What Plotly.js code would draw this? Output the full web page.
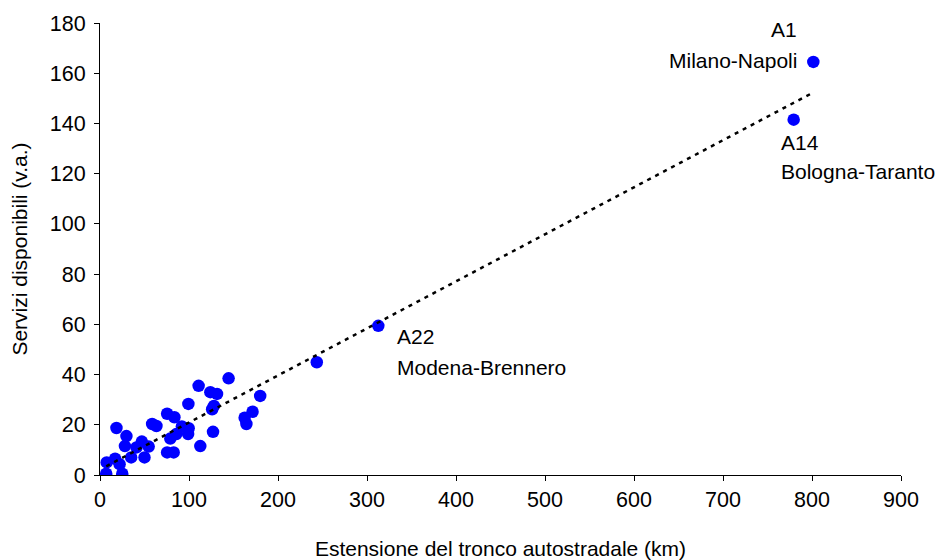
<!DOCTYPE html>
<html>
<head>
<meta charset="utf-8">
<script src="https://cdn.plot.ly/plotly-3.0.1.min.js"></script>
<style>html,body{margin:0;padding:0;background:#fff;}#chart{width:943px;height:560px;}</style>
</head>
<body>
<div id="chart"></div>
<script>
// Estensione del tronco autostradale (km)
var km = [7, 25, 7.5, 17, 22, 18.5, 29.7, 28, 35, 41, 47, 50, 54.7,
          58.6, 63.4, 75.4, 83.6, 79, 85.8, 75.4, 82.8, 92, 99.6, 99, 99.3,
          110.8, 112.7, 124, 131.5, 128, 126, 127, 144.5, 180, 171.4, 162.5, 164.5,
          243.6, 312.7, 779.4, 801.5];
// Servizi disponibili (v.a.)
var servizi = [0.5, 0.5, 5, 6.5, 4.3, 18.7, 15.5, 11.5, 7, 11, 13.3, 7, 11.3,
               20.3, 19.5, 24.4, 23, 14.5, 16.3, 9, 9, 19.3, 18.6, 16.3, 28.3,
               35.5, 11.5, 33, 32.3, 27.5, 26.2, 17.2, 38.5, 31.5, 25.2, 22.8, 20.3,
               44.9, 59.4, 141.5, 164.5];

var labelNames = ["A1", "Milano-Napoli", "A14", "Bologna-Taranto", "A22", "Modena-Brennero"];
var xTitle = "Estensione del tronco autostradale (km)";
var yTitle = "Servizi disponibili (v.a.)";

// linear trend (least squares)
var n = km.length, sx = 0, sy = 0, sxx = 0, sxy = 0;
for (var i = 0; i < n; i++) { sx += km[i]; sy += servizi[i]; sxx += km[i]*km[i]; sxy += km[i]*servizi[i]; }
var slope = (n*sxy - sx*sy) / (n*sxx - sx*sx);
var intercept = (sy - slope*sx) / n;
var xmin = Math.min.apply(null, km), xmax = Math.max.apply(null, km);
var trendX = [xmin, xmax];
var trendY = trendX.map(function(v){ return intercept + slope*v; });

var font = {family: "Liberation Sans, Arial, sans-serif", size: 21, color: "#000"};
var tickFont = {family: "Liberation Sans, Arial, sans-serif", size: 21.5, color: "#000"};

var data = [
  {x: km, y: servizi, type: "scatter", mode: "markers",
   marker: {color: "#0000FF", size: 12.5}, hoverinfo: "x+y"},
  {x: trendX, y: trendY, type: "scatter", mode: "lines",
   line: {color: "#000", width: 2.5, dash: "4px,5px"}, hoverinfo: "skip"}
];

function ann(text, x, y, anchor) {
  return {text: text, x: x, y: y, xref: "x", yref: "y", showarrow: false,
          xanchor: anchor, yanchor: "middle", font: font};
}

var layout = {
  width: 943, height: 560,
  margin: {l: 100, r: 42, t: 23, b: 85},
  paper_bgcolor: "#fff", plot_bgcolor: "#fff",
  showlegend: false,
  font: font,
  xaxis: {range: [0, 900], dtick: 100, tick0: 0, ticks: "outside", ticklen: 5,
          tickcolor: "#000", showline: true, linecolor: "#000", linewidth: 1,
          showgrid: false, zeroline: false, tickfont: tickFont,
          title: {text: xTitle, font: font, standoff: 30}},
  yaxis: {range: [0, 180], dtick: 20, tick0: 0, ticks: "outside", ticklen: 5,
          tickcolor: "#000", showline: true, linecolor: "#000", linewidth: 1,
          showgrid: false, zeroline: false, tickfont: tickFont, ticklabelstandoff: 4,
          title: {text: yTitle, font: font, standoff: 16}},
  annotations: [
    ann(labelNames[0], 785.8, 177.4, "right"),
    ann(labelNames[1], 785.8, 165, "right"),
    ann(labelNames[2], 763.3, 132.3, "left"),
    ann(labelNames[3], 763.3, 120.8, "left"),
    ann(labelNames[4], 331.5, 55, "left"),
    ann(labelNames[5], 331.5, 43, "left")
  ]
};

Plotly.newPlot("chart", data, layout, {displayModeBar: false, staticPlot: true});
</script>
</body>
</html>
